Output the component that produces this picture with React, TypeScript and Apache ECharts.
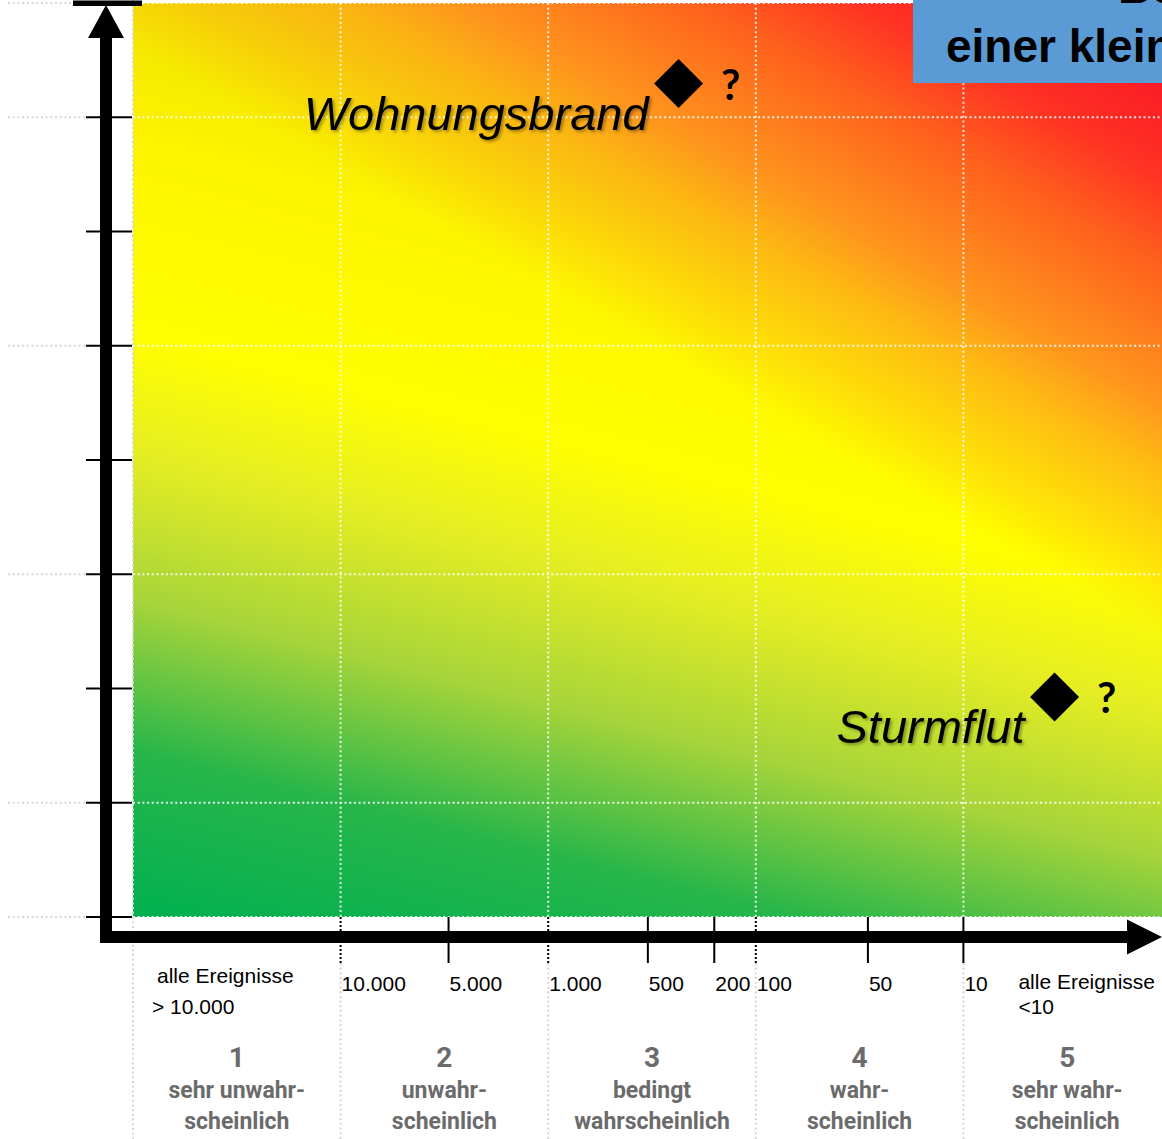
import React, { useEffect, useRef } from "react";
import * as echarts from "echarts";

// ---------------- data ----------------
const classNumbers = ["1", "2", "3", "4", "5"];
const classNames = [
  "sehr unwahr-\nscheinlich",
  "unwahr-\nscheinlich",
  "bedingt\nwahrscheinlich",
  "wahr-\nscheinlich",
  "sehr wahr-\nscheinlich",
];
const classBoundaries = [0, 1, 2, 3, 4];
const freqTickValues = [1, 1.52, 2, 2.48, 2.8, 3, 3.54, 4];
const freqTickLabels = ["10.000", "5.000", "1.000", "500", "200", "100", "50", "10"];
const severityTicks = [0, 1, 2, 3, 4, 5, 6, 7, 8];
const severityGridLines = [0, 1, 3, 5, 7, 8];
const riskNames = ["Wohnungsbrand", "Sturmflut"];
const riskFrequency = [2.628, 4.439];
const riskSeverity = [7.295, 1.926];
const riskMarks = ["?", "?"];
const tailLabelValues = [0, 4];
const tailLabelLines = [
  ["alle Ereignisse", "> 10.000"],
  ["alle Ereignisse", "<10"],
];
const titleLines = ["Beispiel", "einer kleinen Gemeinde"];

const X_MIN = 0;
const X_MAX = 5;
const Y_MIN = 0;
const Y_MAX = 8;

// ---------------- styles ----------------
const SANS = '"Liberation Sans", Arial, sans-serif';
const COND = 'Roboto, "Liberation Sans", sans-serif';
const GRAY_DOT = "#d6d6d6";
const WHITE_DOT = "rgba(255,255,255,0.85)";
const DASH = [2, 2.7];
const LABEL_GRAY = "#6b6b6b";

function plotBox(api: any) {
  const tl = api.coord([X_MIN, Y_MAX]);
  const br = api.coord([X_MAX, Y_MIN]);
  return { x: tl[0], y: tl[1], r: br[0], b: br[1], w: br[0] - tl[0], h: br[1] - tl[1] };
}

function buildOption(): any {
  const bgSeries = {
    type: "custom",
    coordinateSystem: "cartesian2d",
    silent: true,
    clip: false,
    z: 1,
    data: [[X_MIN, Y_MIN]],
    renderItem: (_params: any, api: any) => {
      const p = plotBox(api);
      const base = {
        type: "linear",
        global: true,
        x: p.x - 0.1402 * p.w,
        y: p.y + 0.9617 * p.h,
        x2: p.x + 0.0701 * p.w,
        y2: p.y + 0.0066 * p.h,
        colorStops: [
          { offset: 0, color: "#00b050" },
          { offset: 0.182, color: "#28b64a" },
          { offset: 0.343, color: "#a6d43a" },
          { offset: 0.506, color: "#e6ee22" },
          { offset: 0.633, color: "#ffff00" },
          { offset: 0.833, color: "#fcf400" },
          { offset: 1, color: "#f2e400" },
        ],
      };
      const heat = {
        type: "linear",
        global: true,
        x: p.x + 0.21 * p.w,
        y: p.y + 0.1871 * p.h,
        x2: p.x + 0.4393 * p.w,
        y2: p.y - 0.2691 * p.h,
        colorStops: [
          { offset: 0, color: "rgba(255,150,30,0)" },
          { offset: 0.104, color: "rgba(255,150,30,0.22)" },
          { offset: 0.292, color: "rgba(255,150,30,0.6)" },
          { offset: 0.417, color: "rgba(255,140,32,0.9)" },
          { offset: 0.667, color: "rgba(255,90,30,0.95)" },
          { offset: 0.833, color: "rgba(255,50,35,1)" },
          { offset: 1, color: "rgba(250,28,38,1)" },
        ],
      };
      return {
        type: "group",
        children: [
          { type: "rect", shape: { x: p.x, y: p.y, width: p.w, height: p.h }, style: { fill: base } },
          { type: "rect", shape: { x: p.x, y: p.y, width: p.w, height: p.h }, style: { fill: heat } },
        ],
      };
    },
  };

  const hGridSeries = {
    type: "custom",
    coordinateSystem: "cartesian2d",
    silent: true,
    clip: false,
    z: 2,
    data: severityGridLines.map((v) => [X_MIN, v]),
    renderItem: (_params: any, api: any) => {
      const p = plotBox(api);
      const y = api.coord([X_MIN, api.value(1)])[1];
      return {
        type: "group",
        children: [
          { type: "line", shape: { x1: 8, y1: y, x2: p.x - 47, y2: y }, style: { stroke: GRAY_DOT, lineWidth: 2, lineDash: DASH } },
          { type: "line", shape: { x1: p.x, y1: y, x2: p.r, y2: y }, style: { stroke: WHITE_DOT, lineWidth: 2, lineDash: DASH } },
        ],
      };
    },
  };

  const vGridSeries = {
    type: "custom",
    coordinateSystem: "cartesian2d",
    silent: true,
    clip: false,
    z: 2,
    data: classBoundaries.map((v) => [v, Y_MIN]),
    renderItem: (_params: any, api: any) => {
      const p = plotBox(api);
      const v = api.value(0);
      const x = api.coord([v, Y_MIN])[0];
      const H = api.getHeight();
      if (v === X_MIN) {
        return { type: "line", shape: { x1: x, y1: 0, x2: x, y2: H }, style: { stroke: GRAY_DOT, lineWidth: 2, lineDash: DASH } };
      }
      return {
        type: "group",
        children: [
          { type: "line", shape: { x1: x, y1: p.y, x2: x, y2: p.b }, style: { stroke: WHITE_DOT, lineWidth: 2, lineDash: DASH } },
          { type: "line", shape: { x1: x, y1: p.b + 46, x2: x, y2: H }, style: { stroke: GRAY_DOT, lineWidth: 2, lineDash: DASH } },
        ],
      };
    },
  };

  const axesSeries = {
    type: "custom",
    coordinateSystem: "cartesian2d",
    silent: true,
    clip: false,
    z: 3,
    data: [[X_MIN, Y_MIN]],
    renderItem: (_params: any, api: any) => {
      const p = plotBox(api);
      const W = api.getWidth();
      const ax = p.x - 27;
      const ay = p.b + 20;
      return {
        type: "group",
        children: [
          { type: "rect", shape: { x: ax - 6, y: p.y + 33, width: 12, height: ay + 6 - (p.y + 33) }, style: { fill: "#000" } },
          { type: "polygon", shape: { points: [[ax, p.y + 2], [ax - 18, p.y + 35], [ax + 18, p.y + 35]] }, style: { fill: "#000" } },
          { type: "rect", shape: { x: p.x - 60, y: p.y - 2.5, width: 69, height: 5.5 }, style: { fill: "#000" } },
          { type: "rect", shape: { x: ax - 6, y: ay - 6, width: W - 35 - (ax - 6), height: 12 }, style: { fill: "#000" } },
          { type: "polygon", shape: { points: [[W, ay], [W - 35, ay - 17.5], [W - 35, ay + 17.5]] }, style: { fill: "#000" } },
        ],
      };
    },
  };

  const yTickSeries = {
    type: "custom",
    coordinateSystem: "cartesian2d",
    silent: true,
    clip: false,
    z: 4,
    data: severityTicks.map((v) => [X_MIN, v]),
    renderItem: (_params: any, api: any) => {
      const p = plotBox(api);
      const y = api.coord([X_MIN, api.value(1)])[1];
      return { type: "line", shape: { x1: p.x - 47, y1: y, x2: p.x - 1, y2: y }, style: { stroke: "#000", lineWidth: 2 } };
    },
  };

  const lastBoundary = Math.max(...classBoundaries);
  const xTickSeries = {
    type: "custom",
    coordinateSystem: "cartesian2d",
    silent: true,
    clip: false,
    z: 4,
    data: freqTickValues.map((v) => [v, Y_MIN]),
    renderItem: (params: any, api: any) => {
      const p = plotBox(api);
      const v = api.value(0);
      const x = api.coord([v, Y_MIN])[0];
      const dotted = classBoundaries.indexOf(v) >= 0 && v < lastBoundary;
      return {
        type: "group",
        children: [
          {
            type: "line",
            shape: { x1: x, y1: p.b, x2: x, y2: p.b + 46 },
            style: { stroke: "#000", lineWidth: 2, lineDash: dotted ? [2, 2] : null },
          },
          {
            type: "text",
            x: x + 1,
            y: p.b + 66,
            style: { text: freqTickLabels[params.dataIndex], font: `21px ${SANS}`, fill: "#000", align: "left", verticalAlign: "middle" },
          },
        ],
      };
    },
  };

  const tailDx = [24, 55];
  const tailDy = [
    [58, 89],
    [64, 89],
  ];
  const tailSeries = {
    type: "custom",
    coordinateSystem: "cartesian2d",
    silent: true,
    clip: false,
    z: 4,
    data: tailLabelValues.map((v) => [v, Y_MIN]),
    renderItem: (params: any, api: any) => {
      const p = plotBox(api);
      const i = params.dataIndex;
      const x = api.coord([api.value(0), Y_MIN])[0];
      return {
        type: "group",
        children: tailLabelLines[i].map((t, k) => ({
          type: "text",
          x: x + tailDx[i] - (i === 0 && k === 1 ? 5 : 0),
          y: p.b + tailDy[i][k],
          style: { text: t, font: `21px ${SANS}`, fill: "#000", align: "left", verticalAlign: "middle" },
        })),
      };
    },
  };

  const classSeries = {
    type: "custom",
    coordinateSystem: "cartesian2d",
    silent: true,
    clip: false,
    z: 4,
    data: classNumbers.map((_n, i) => [i + 0.5, Y_MIN]),
    renderItem: (params: any, api: any) => {
      const p = plotBox(api);
      const i = params.dataIndex;
      const x = api.coord([api.value(0), Y_MIN])[0];
      const lines = classNames[i].split("\n");
      return {
        type: "group",
        children: [
          {
            type: "text",
            x,
            y: p.b + 140,
            style: { text: classNumbers[i], font: `bold 28px ${COND}`, fill: LABEL_GRAY, align: "center", verticalAlign: "middle" },
          },
          ...lines.map((t, k) => ({
            type: "text",
            x,
            y: p.b + 173 + k * 31,
            style: { text: t, font: `bold 23px ${COND}`, fill: LABEL_GRAY, align: "center", verticalAlign: "middle" },
          })),
        ],
      };
    },
  };

  const riskSeries = {
    type: "custom",
    coordinateSystem: "cartesian2d",
    silent: true,
    clip: false,
    z: 6,
    data: riskFrequency.map((f, i) => [f, riskSeverity[i]]),
    renderItem: (params: any, api: any) => {
      const i = params.dataIndex;
      const c = api.coord([api.value(0), api.value(1)]);
      const cx = c[0];
      const cy = c[1];
      const s = 24.5;
      return {
        type: "group",
        children: [
          {
            type: "text",
            x: cx - 30,
            y: cy + 30,
            style: {
              text: riskNames[i],
              font: `italic 47px ${SANS}`,
              fill: "#000",
              align: "right",
              verticalAlign: "middle",
              textShadowColor: "rgba(0,0,0,0.35)",
              textShadowBlur: 3,
              textShadowOffsetX: 2,
              textShadowOffsetY: 2,
            },
          },
          {
            type: "polygon",
            shape: { points: [[cx, cy - s], [cx + s, cy], [cx, cy + s], [cx - s, cy]] },
            style: { fill: "#000" },
          },
          {
            type: "text",
            x: cx + 52,
            y: cy,
            style: { text: riskMarks[i], font: `bold 42px Lato, ${SANS}`, fill: "#000", align: "center", verticalAlign: "middle" },
          },
        ],
      };
    },
  };

  return {
    animation: false,
    backgroundColor: "#ffffff",
    grid: { left: 133, top: 3, width: 1038, height: 914, show: false, outerBoundsMode: "none", containLabel: false },
    xAxis: { type: "value", min: X_MIN, max: X_MAX, show: false },
    yAxis: { type: "value", min: Y_MIN, max: Y_MAX, show: false },
    series: [bgSeries, hGridSeries, vGridSeries, axesSeries, yTickSeries, xTickSeries, tailSeries, classSeries, riskSeries],
    graphic: [
      { type: "rect", x: 913, y: 0, z: 20, shape: { width: 260, height: 83 }, style: { fill: "#5b9bd5" } },
      {
        type: "text",
        x: 1118,
        y: -13,
        z: 21,
        style: { text: titleLines[0], font: `bold 46px ${SANS}`, fill: "#000", align: "left", verticalAlign: "middle" },
      },
      {
        type: "text",
        x: 946,
        y: 46,
        z: 21,
        style: { text: titleLines[1], font: `bold 46px ${SANS}`, fill: "#000", align: "left", verticalAlign: "middle" },
      },
    ],
  };
}

export default function App() {
  const ref = useRef<HTMLDivElement>(null);
  useEffect(() => {
    if (!ref.current) return;
    const chart = echarts.init(ref.current, null, { renderer: "svg" });
    chart.setOption(buildOption());
    return () => chart.dispose();
  }, []);
  return (
    <div
      ref={ref}
      style={{ position: "fixed", left: 0, top: 0, width: 1162, height: 1139, background: "#fff" }}
    />
  );
}
